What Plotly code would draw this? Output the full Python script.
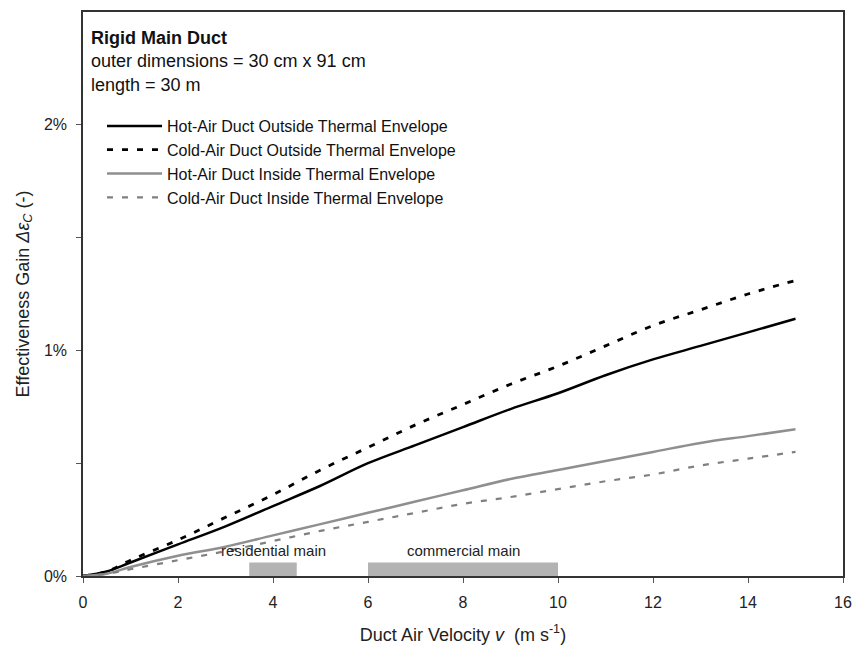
import plotly.graph_objects as go

velocity = [0, 0.5, 1, 2, 3, 4, 5, 6, 7, 8, 9, 10, 11, 12, 13, 14, 15]
hot_outside = [0, 0.0002, 0.0006, 0.0014, 0.0022, 0.0031, 0.0040, 0.0050, 0.0058, 0.0066, 0.0074, 0.0081, 0.0089, 0.0096, 0.0102, 0.0108, 0.0114]
cold_outside = [0, 0.0002, 0.0007, 0.0016, 0.0026, 0.0036, 0.0047, 0.0057, 0.0067, 0.0076, 0.0085, 0.0093, 0.0102, 0.0111, 0.0118, 0.0125, 0.0131]
hot_inside = [0, 0.0001, 0.0004, 0.0009, 0.0013, 0.0018, 0.0023, 0.0028, 0.0033, 0.0038, 0.0043, 0.0047, 0.0051, 0.0055, 0.0059, 0.0062, 0.0065]
cold_inside = [0, 0.0001, 0.0003, 0.0007, 0.0011, 0.00155, 0.0020, 0.0024, 0.0028, 0.0032, 0.0035, 0.00385, 0.0042, 0.0045, 0.0049, 0.0052, 0.0055]

series_names = [
    "Hot-Air Duct Outside Thermal Envelope",
    "Cold-Air Duct Outside Thermal Envelope",
    "Hot-Air Duct Inside Thermal Envelope",
    "Cold-Air Duct Inside Thermal Envelope",
]

range_labels = ["residential main", "commercial main"]
range_start = [3.5, 6.0]
range_end = [4.5, 10.0]
range_height = [0.0006, 0.0006]

x_ticks = [0, 2, 4, 6, 8, 10, 12, 14, 16]
y_ticks = [0, 0.01, 0.02]
y_tick_labels = ["0%", "1%", "2%"]

font = "Liberation Sans, Arial, sans-serif"

fig = go.Figure()

# gray velocity range bars
centers = [(a + b) / 2 for a, b in zip(range_start, range_end)]
widths = [b - a for a, b in zip(range_start, range_end)]
fig.add_trace(go.Bar(
    x=centers, y=range_height, width=widths,
    marker=dict(color="#b3b3b3", line=dict(width=0)),
    showlegend=False, hoverinfo="skip",
))

styles = [
    dict(color="black", width=2.5, dash="solid"),
    dict(color="black", width=2.8, dash="6px,9px"),
    dict(color="#8f8f8f", width=2.5, dash="solid"),
    dict(color="#808080", width=2.2, dash="6px,9px"),
]
for name, ys, st in zip(series_names, [hot_outside, cold_outside, hot_inside, cold_inside], styles):
    fig.add_trace(go.Scatter(
        x=velocity, y=ys, mode="lines", name=name,
        line=dict(color=st["color"], width=st["width"], dash=st["dash"], shape="spline"),
    ))

for lbl, c, h in zip(range_labels, centers, range_height):
    fig.add_annotation(x=c, y=h, text=lbl, showarrow=False, yanchor="bottom",
                       yshift=1, font=dict(family=font, size=15, color="#222"))

fig.add_annotation(xref="paper", yref="paper", x=0.008, y=0.976, xanchor="left", yanchor="top",
                   align="left", showarrow=False,
                   text="<b>Rigid Main Duct</b><br>outer dimensions = 30 cm x 91 cm<br>length = 30 m",
                   font=dict(family=font, size=18, color="#111"))

fig.update_layout(
    width=852, height=645,
    margin=dict(l=83, r=9, t=12, b=69, autoexpand=False),
    paper_bgcolor="white", plot_bgcolor="white",
    font=dict(family=font, size=16, color="#222"),
    barmode="overlay",
    legend=dict(x=0.025, y=0.828, xanchor="left", yanchor="top",
                bgcolor="rgba(0,0,0,0)", font=dict(family=font, size=16, color="#111"),
                tracegroupgap=0, itemwidth=55),
    xaxis=dict(range=[0, 16], tickvals=x_ticks, showline=True, mirror=True,
               linecolor="#333", linewidth=1.5, ticks="outside", ticklen=5, tickcolor="#555",
               ticklabelstandoff=6, automargin=False,
               showgrid=False, zeroline=False,
               title=dict(text="Duct Air Velocity <i>v</i>  (m s<sup>-1</sup>)",
                          font=dict(family=font, size=18), standoff=18),
               tickfont=dict(family=font, size=16)),
    yaxis=dict(range=[0, 0.025], tickvals=y_ticks, ticktext=y_tick_labels,
               showline=True, mirror=True, linecolor="#333", linewidth=1.5,
               ticks="outside", ticklen=5, tickcolor="#555", ticklabelstandoff=6,
               automargin=False,
               minor=dict(tickvals=[0.005, 0.015], ticks="outside", ticklen=5, tickcolor="#555"),
               showgrid=False, zeroline=False,
               title=dict(text="Effectiveness Gain <i>Δε<sub>C</sub></i> (-)",
                          font=dict(family=font, size=18), standoff=10),
               tickfont=dict(family=font, size=16)),
)

fig.write_html("out.html")
